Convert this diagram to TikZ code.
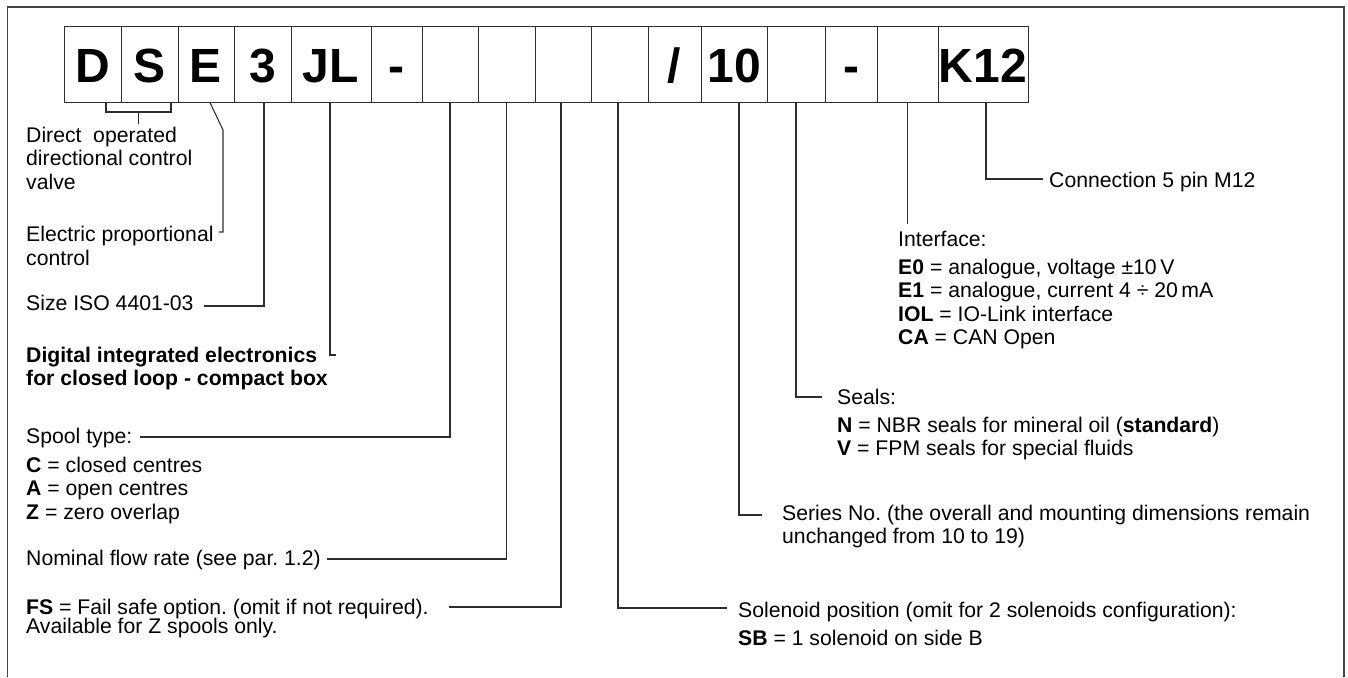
\documentclass[tikz,border=0pt]{standalone}
\usepackage{fontspec}
\setmainfont{Liberation Sans}
\frenchspacing
\definecolor{CodeLine}{HTML}{2E2E2E}
\definecolor{FrameLine}{HTML}{444444}
\tikzset{
  codebox/.style={draw=CodeLine,line width=1pt,minimum height=75pt,inner sep=0pt,
    text height=35pt,text depth=0pt,font=\fontsize{48}{50}\selectfont\bfseries},
  lbl/.style={anchor=base west,inner sep=0pt,align=left,font=\fontsize{21.2}{23.5}\selectfont},
  lead/.style={draw=CodeLine,line width=1.1pt},
}

\begin{document}
\begin{tikzpicture}[x=1pt,y=-1pt]
    \useasboundingbox (0,0) rectangle (1348,677);
    \draw[FrameLine,line width=1.4pt] (7.5,677) -- (7.5,7) -- (1344,7) -- (1344,677);
    % ordering code boxes
    \foreach \i/\x/\w/\t in {
      1/92.5/57/D, 2/149.5/57/S, 3/206/56/E, 4/262.5/57/3, 5/331/80/JL,
      6/396.5/51/-, 7/450/56/{}, 8/506.5/57/{}, 9/563/56/{}, 10/619.5/57/{},
      11/674.5/53/{/}, 12/734/66/10, 13/796/58/{}, 14/851/52/-,
      15/907.5/61/{}, 16/983/90/K12
    } {
      \node[codebox,minimum width=\w] (c\i) at (\x,64.5) {\t};
    }
    % left column (multi-line nodes sit on their last baseline)
    \node[lbl] (direct) at (26,189) {Direct\hspace{0.55em}operated\\directional control\\valve};
    \node[lbl] (electric) at (26,265) {Electric proportional\\control};
    \node[lbl] (size) at (26,310) {Size ISO 4401-03};
    \node[lbl,font=\fontsize{21.2}{23.5}\selectfont\bfseries] (digital) at (26,385.5)
      {Digital integrated electronics\\for closed loop - compact box};
    \node[lbl] (spool) at (26,443) {Spool type:};
    \node[lbl] (spoollist) at ([yshift=-76pt]spool.base west)
      {\textbf{C} = closed centres\\\textbf{A} = open centres\\\textbf{Z} = zero overlap};
    \node[lbl] (flow) at (26,565) {Nominal flow rate (see par. 1.2)};
    \node[lbl] (failsafe) at (26,633)
      {\textbf{FS} = Fail safe option. (omit if not required).\\[-4.5pt]Available for Z spools only.};
    % right side
    \node[lbl] (conn) at (1049,187) {Connection 5 pin M12};
    \node[lbl] (iface) at (898,246) {Interface:};
    \node[lbl] (ifacelist) at ([yshift=-98.5pt]iface.base west)
      {\textbf{E0} = analogue, voltage ±10\,V\\\textbf{E1} = analogue, current 4 ÷ 20\,mA\\
       \textbf{IOL} = IO-Link interface\\\textbf{CA} = CAN Open};
    \node[lbl] (seals) at (837,404) {Seals:};
    \node[lbl] (sealslist) at ([yshift=-51.5pt]seals.base west)
      {\textbf{N} = NBR seals for mineral oil (\textbf{standard})\\\textbf{V} = FPM seals for special fluids};
    \node[lbl] (series) at (782,543.5)
      {Series No. (the overall and mounting dimensions remain\\unchanged from 10 to 19)};
    \node[lbl] (solenoid) at (738,617) {Solenoid position (omit for 2 solenoids configuration):};
    \node[lbl] (sollist) at ([yshift=-28pt]solenoid.base west) {\textbf{SB} = 1 solenoid on side B};
    % leader lines
    \draw[lead] ([xshift=13.5pt]c1.south) |- (138.5,112) coordinate (dsmid) -| ([xshift=21.5pt]c2.south);
    \draw[lead] (dsmid) -- ([yshift=2pt]dsmid |- direct.north);
    \draw[lead] ([xshift=4pt]c3.south) -- (223,130) |- ([xshift=5pt,yshift=33pt]electric.base east);
    \draw[lead] ([xshift=1.5pt]c4.south) |- ([xshift=10pt,yshift=4pt]size.base east);
    \draw[lead] ([xshift=-1pt]c5.south) |- ([xshift=8pt,yshift=30.5pt]digital.base east);
    \draw[lead] (c7.south) |- ([xshift=8pt,yshift=6pt]spool.base east);
    \draw[lead] (c8.south) |- ([xshift=6pt,yshift=6pt]flow.base east);
    \draw[lead] ([xshift=-2pt]c9.south) |- ([xshift=20pt,yshift=26pt]failsafe.base east);
    \draw[lead] ([xshift=-1.5pt]c10.south) |- ([xshift=-11pt,yshift=9pt]solenoid.base west);
    \draw[lead] ([xshift=5pt]c12.south) |- ([xshift=-20pt,yshift=28.5pt]series.base west);
    \draw[lead] (c13.south) |- ([xshift=-15pt,yshift=7pt]seals.base west);
    \draw[lead] (c15.south) -- ([yshift=6pt]c15.south |- iface.north);
    \draw[lead] ([xshift=3pt]c16.south) |- ([xshift=-6pt,yshift=8pt]conn.base west);
\end{tikzpicture}
\end{document}
